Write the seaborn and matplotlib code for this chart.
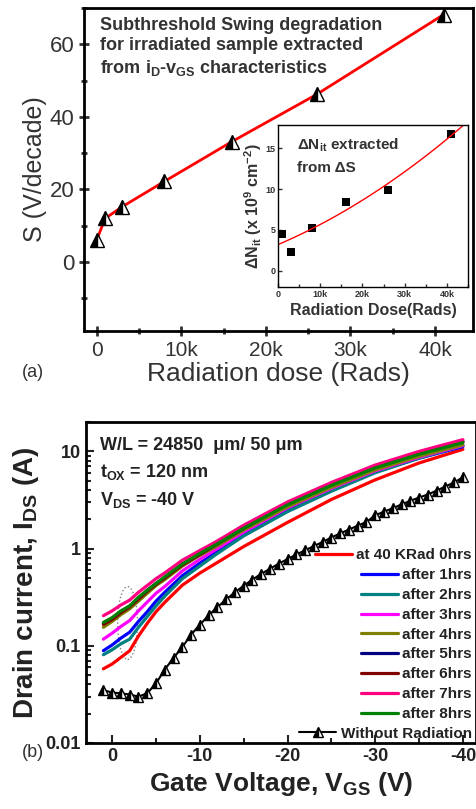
import numpy as np
import pandas as pd
import seaborn as sns
import matplotlib.pyplot as plt
from matplotlib.ticker import MultipleLocator, NullFormatter, FuncFormatter
from matplotlib.patches import Ellipse

sns.set_style('ticks')
plt.rcParams['font.family'] = ['Liberation Sans', 'DejaVu Sans']
plt.rcParams['mathtext.fontset'] = 'custom'
plt.rcParams['mathtext.rm'] = 'Liberation Sans'
plt.rcParams['mathtext.bf'] = 'Liberation Sans:bold'
plt.rcParams['mathtext.it'] = 'Liberation Sans:italic'

# ---- (a) subthreshold swing vs dose
dose = [0, 1000, 3000, 8000, 16000, 26000, 41000]
swing = [6, 12, 15.2, 22.2, 33.2, 46.2, 68.2]

# inset: delta Nit
dose_in = [1000, 3000, 8000, 16000, 26000, 41000]
dnit = [4.5, 2.3, 5.3, 8.4, 9.9, 16.7]

# ---- (b) transfer curves
vgs = [1, 0, -1, -2, -3, -4, -5, -6, -8, -10, -12, -15, -20, -25, -30, -35, -40]
i_0h = [0.058, 0.065, 0.076, 0.089, 0.126, 0.17, 0.224, 0.28, 0.42, 0.56, 0.72, 1.05, 1.86, 3.2, 5.1, 7.6, 10.5]
i_1h = [0.089, 0.102, 0.120, 0.138, 0.178, 0.224, 0.288, 0.355, 0.525, 0.708, 0.933, 1.38, 2.45, 3.98, 6.17, 8.51, 11.2]
i_2h = [0.081, 0.091, 0.105, 0.117, 0.155, 0.200, 0.257, 0.324, 0.490, 0.661, 0.891, 1.35, 2.40, 3.89, 6.03, 8.51, 11.5]
i_3h = [0.117, 0.135, 0.158, 0.182, 0.229, 0.282, 0.347, 0.407, 0.589, 0.776, 1.00, 1.48, 2.63, 4.17, 6.31, 8.71, 11.5]
i_4h = [0.155, 0.178, 0.209, 0.240, 0.288, 0.347, 0.417, 0.479, 0.661, 0.851, 1.07, 1.55, 2.69, 4.27, 6.46, 8.91, 11.7]
i_5h = [0.170, 0.191, 0.224, 0.257, 0.309, 0.372, 0.437, 0.501, 0.692, 0.871, 1.12, 1.62, 2.88, 4.57, 6.92, 9.55, 12.6]
i_6h = [0.166, 0.186, 0.219, 0.251, 0.302, 0.363, 0.427, 0.501, 0.676, 0.871, 1.12, 1.62, 2.88, 4.57, 6.92, 9.55, 12.6]
i_7h = [0.204, 0.229, 0.263, 0.295, 0.355, 0.417, 0.490, 0.562, 0.759, 0.955, 1.20, 1.74, 3.02, 4.79, 7.24, 10.0, 13.2]
i_8h = [0.174, 0.195, 0.229, 0.257, 0.316, 0.372, 0.437, 0.513, 0.692, 0.891, 1.12, 1.62, 2.82, 4.47, 6.76, 9.33, 12.3]

vgs_ref = list(range(1, -41, -1))
i_ref = [0.035, 0.033, 0.0325, 0.0315, 0.030, 0.0325, 0.041, 0.057, 0.075, 0.097,
         0.13, 0.165, 0.205, 0.25, 0.30, 0.355, 0.415, 0.48, 0.55, 0.62,
         0.70, 0.78, 0.87, 0.96, 1.06, 1.17, 1.3, 1.43, 1.57, 1.72,
         1.88, 2.2, 2.4, 2.6, 2.85, 3.1, 3.35, 3.6, 3.95, 4.35, 4.8, 5.4]

curves = [i_0h, i_1h, i_2h, i_3h, i_4h, i_5h, i_6h, i_7h, i_8h]
labels = ['at 40 KRad 0hrs', 'after 1hrs', 'after 2hrs', 'after 3hrs', 'after 4hrs',
          'after 5hrs', 'after 6hrs', 'after 7hrs', 'after 8hrs']
colors = ['#ff0000', '#0000ff', '#008080', '#ff00ff', '#808000',
          '#000080', '#800000', '#ff0080', '#008000']

fig = plt.figure(figsize=(4.77, 8.09), dpi=100)
grey = '#333333'

# ================= panel (a)
ax1 = fig.add_axes([0.176, 0.591, 0.816, 0.399])
sns.lineplot(x=dose, y=swing, ax=ax1, color='red', lw=2, marker='^', markersize=10,
             markeredgecolor='black', mfc='black', fillstyle='left',
             markerfacecoloralt='white', mew=1)
ax1.set_xlim(-1500, 44500)
ax1.set_ylim(-19, 70)
ax1.xaxis.set_major_locator(MultipleLocator(10000))
ax1.xaxis.set_minor_locator(MultipleLocator(5000))
ax1.yaxis.set_major_locator(MultipleLocator(20))
ax1.yaxis.set_minor_locator(MultipleLocator(10))
ax1.xaxis.set_major_formatter(FuncFormatter(lambda v, p: '0' if v == 0 else f'{int(v / 1000)}k'))
ax1.tick_params(which='both', direction='inout', width=2, colors=grey)
ax1.tick_params(axis='x', labelsize=15)
ax1.tick_params(axis='y', labelsize=16)
ax1.tick_params(which='major', length=7)
ax1.tick_params(which='minor', length=5)
for s in ax1.spines.values():
    s.set_linewidth(2)
    s.set_color('black')
ax1.set_xlabel('Radiation dose (Rads)', fontsize=19, color=grey, labelpad=2)
ax1.set_ylabel('S (V/decade)', fontsize=18, color=grey, labelpad=2)
ax1.text(0.041, 0.972, 'Subthreshold Swing degradation\nfor irradiated sample extracted\n'
         r'from i$_\mathbf{D}$-v$_\mathbf{GS}$ characteristics',
         transform=ax1.transAxes, ha='left', va='top', fontsize=13, fontweight='bold',
         color=grey, linespacing=1.25)
fig.text(0.069, 0.540, '(a)', fontsize=13, color=grey, ha='center', va='center')

# inset
axi = fig.add_axes([0.583, 0.645, 0.398, 0.2])
axi.set_xlim(0, 45000)
axi.set_ylim(-2, 17.8)
sns.regplot(x=dose_in, y=dnit, ax=axi, order=2, ci=None, truncate=False, scatter=False,
            line_kws=dict(color='red', lw=1))
sns.scatterplot(x=dose_in, y=dnit, ax=axi, marker='s', color='black', s=28, linewidth=0)
axi.set_xlim(0, 45000)
axi.set_ylim(-2, 17.8)
axi.xaxis.set_major_locator(MultipleLocator(10000))
axi.xaxis.set_minor_locator(MultipleLocator(5000))
axi.yaxis.set_major_locator(MultipleLocator(5))
axi.xaxis.set_major_formatter(FuncFormatter(lambda v, p: '0' if v == 0 else f'{int(v / 1000)}k'))
axi.tick_params(which='both', direction='in', width=1, labelsize=6.5, colors=grey, pad=2)
axi.tick_params(which='major', length=3)
axi.tick_params(which='minor', length=2)
for lab in axi.get_xticklabels() + axi.get_yticklabels():
    lab.set_fontweight('bold')
for s in axi.spines.values():
    s.set_linewidth(1)
    s.set_color('black')
axi.set_xlabel('Radiation Dose(Rads)', fontsize=11.5, fontweight='bold', color=grey, labelpad=3)
axi.set_ylabel(r'ΔN$_\mathbf{it}$ (x 10$^\mathbf{9}$ cm$^\mathbf{-2}$)', fontsize=11.5,
               fontweight='bold', color=grey, labelpad=1)
axi.text(0.1, 0.93, r'ΔN$_\mathbf{it}$ extracted', transform=axi.transAxes, ha='left', va='top',
         fontsize=11, fontweight='bold', color=grey)
axi.text(0.1, 0.78, 'from ΔS', transform=axi.transAxes, ha='left', va='top',
         fontsize=11, fontweight='bold', color=grey)

# ================= panel (b)
ax2 = fig.add_axes([0.180, 0.0816, 0.818, 0.3966])
ax2.set_yscale('log')
for vals, lab, c in zip(curves, labels, colors):
    sns.lineplot(x=vgs, y=vals, ax=ax2, color=c, lw=2.3, label=lab)
sns.lineplot(x=vgs_ref, y=i_ref, ax=ax2, color='black', lw=1.5, marker='^', markersize=7,
             markeredgecolor='black', mfc='black', fillstyle='left',
             markerfacecoloralt='white', mew=1, label='Without Radiation')
ax2.set_xlim(3, -41.5)
ax2.set_ylim(0.01, 20)
ax2.set_yticks([0.01, 0.1, 1, 10], labels=['0.01', '0.1', '1', '10'])
ax2.yaxis.set_minor_formatter(NullFormatter())
ax2.set_xticks([0, -10, -20, -30, -40], labels=['0', '-10', '-20', '-30', '-40'])
ax2.xaxis.set_minor_locator(MultipleLocator(5))
ax2.tick_params(which='both', direction='in', width=1.5, labelsize=13, colors='#222222')
ax2.tick_params(which='major', length=6)
ax2.tick_params(which='minor', length=3.5)
for lab in ax2.get_xticklabels() + ax2.get_yticklabels():
    lab.set_fontweight('bold')
for s in ax2.spines.values():
    s.set_linewidth(2)
    s.set_color('black')
ax2.set_xlabel(r'Gate Voltage, V$_\mathbf{GS}$ (V)', fontsize=19, fontweight='bold',
               color='#222222', labelpad=4)
ax2.set_ylabel(r'Drain current, I$_\mathbf{DS}$ (A)', fontsize=20, fontweight='bold',
               color='#222222', labelpad=3)
ax2.text(0.036, 0.955, 'W/L = 24850  μm/ 50 μm', transform=ax2.transAxes, ha='left', va='top',
         fontsize=13, fontweight='bold', color='#222222')
ax2.text(0.036, 0.875, r't$_\mathbf{OX}$ = 120 nm', transform=ax2.transAxes, ha='left', va='top',
         fontsize=13, fontweight='bold', color='#222222')
ax2.text(0.036, 0.79, r'V$_\mathbf{DS}$ = -40 V', transform=ax2.transAxes, ha='left', va='top',
         fontsize=13, fontweight='bold', color='#222222')
ax2.add_patch(Ellipse((0.107, 0.374), 0.051, 0.227, transform=ax2.transAxes, fill=False,
                      ls=':', ec='grey', lw=1))
fig.text(0.069, 0.07, '(b)', fontsize=13, color=grey, ha='center', va='center')

handles, labs = ax2.get_legend_handles_labels()
leg = ax2.legend(handles, labs, loc='lower right', bbox_to_anchor=(0.995, 0.0), frameon=False,
                 prop=dict(weight='bold', size=11), handlelength=2.4, handletextpad=0.3,
                 labelspacing=0.38, borderaxespad=0.05, borderpad=0.1)
for col in leg._legend_handle_box.get_children():
    col.align = 'right'
for t in leg.get_texts():
    t.set_color('#222222')

fig.savefig('out.png', dpi=100)
